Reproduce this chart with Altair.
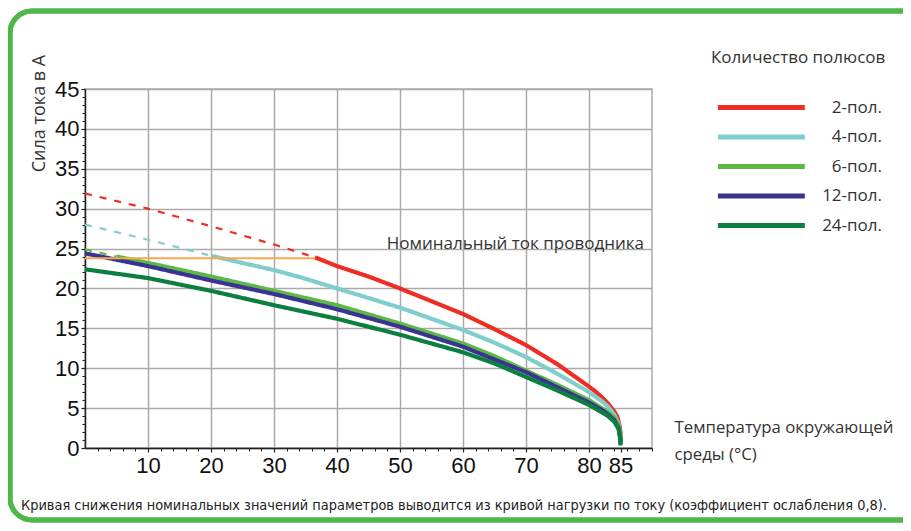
import altair as alt
import pandas as pd

series_names = ["2-пол.", "4-пол.", "6-пол.", "12-пол.", "24-пол."]
series_colors = ["#ee2e24", "#7fcdcd", "#5cb946", "#3a3392", "#0b7f3f"]

# dashed parts (above the conductor rating)
p2_dash_t = [0, 10, 20, 30, 36.5]
p2_dash_i = [31.9, 30.0, 27.8, 25.5, 23.9]
p4_dash_t = [0, 10, 20]
p4_dash_i = [28.0, 26.1, 24.1]
p6_dash_t = [0, 5]
p6_dash_i = [24.9, 24.0]

# solid parts
p2_t = [36.5, 40, 45, 50, 55, 60, 65, 70, 75, 80, 81, 82, 83, 84, 84.5, 84.8, 85, 85]
p2_i = [23.9, 22.8, 21.5, 20.0, 18.4, 16.8, 14.9, 12.9, 10.5, 7.7, 7.1, 6.4, 5.6, 4.6, 3.9, 3.0, 2.0, 0.8]
p4_t = [20, 30, 34.2, 40, 50, 60, 65, 70, 75, 80, 82, 83, 84, 84.7, 85, 85]
p4_i = [24.1, 22.3, 21.4, 20.0, 17.6, 14.8, 13.2, 11.4, 9.3, 7.0, 5.9, 5.2, 4.2, 3.0, 1.5, 0.8]
p6_t = [5, 10, 20, 30, 40, 50, 60, 65, 70, 75, 80, 82, 83, 84, 84.7, 85, 85]
p6_i = [24.0, 23.2, 21.5, 19.7, 17.9, 15.6, 13.1, 11.5, 9.7, 7.9, 6.0, 5.0, 4.5, 3.8, 2.8, 1.2, 0.6]
p12_t = [0, 10, 20, 30, 40, 50, 60, 65, 70, 75, 80, 82, 83, 84, 84.7, 85, 85]
p12_i = [24.4, 22.8, 21.0, 19.3, 17.4, 15.2, 12.7, 11.1, 9.5, 7.6, 5.7, 4.8, 4.2, 3.5, 2.5, 1.0, 0.5]
p24_t = [0, 10, 20, 30, 40, 50, 60, 65, 70, 75, 80, 82, 83, 84, 84.7, 85, 85]
p24_i = [22.4, 21.3, 19.7, 17.9, 16.2, 14.2, 12.0, 10.6, 8.9, 7.2, 5.4, 4.5, 4.0, 3.3, 2.4, 1.0, 0.3]

# conductor rated current
rating_t = [0, 36.5]
rating_i = [23.8, 23.8]
rating_label = ["Номинальный ток проводника"]
rating_label_t = [47.9]
rating_label_i = [25.6]

x_ticks = [10, 20, 30, 40, 50, 60, 70, 80, 85]
x_minor = [2, 4, 6, 8, 12, 14, 16, 18, 22, 24, 26, 28, 32, 34, 36, 38, 42, 44, 46, 48,
           52, 54, 56, 58, 62, 64, 66, 68, 72, 74, 76, 78, 82, 84, 86, 88, 90]
y_ticks = [0, 5, 10, 15, 20, 25, 30, 35, 40, 45]
y_minor = [v for v in range(0, 46) if v % 5 != 0]

note = ["Кривая снижения номинальных значений параметров выводится из кривой нагрузки "
        "по току (коэффициент ослабления 0,8)."]

rows = []
def add(name, style, ts, vs):
    for k, (t, v) in enumerate(zip(ts, vs)):
        rows.append({"series": name, "style": style, "seg": name + style, "t": t, "i": v, "idx": k})

add(series_names[0], "dashed", p2_dash_t, p2_dash_i)
add(series_names[0], "solid", p2_t, p2_i)
add(series_names[1], "dashed", p4_dash_t, p4_dash_i)
add(series_names[1], "solid", p4_t, p4_i)
add(series_names[2], "dashed", p6_dash_t, p6_dash_i)
add(series_names[2], "solid", p6_t, p6_i)
add(series_names[3], "solid", p12_t, p12_i)
add(series_names[4], "solid", p24_t, p24_i)
curves_df = pd.DataFrame(rows)

rating_df = pd.DataFrame({"t": rating_t, "i": rating_i})
label_df = pd.DataFrame({"t": rating_label_t, "i": rating_label_i, "label": rating_label})
note_df = pd.DataFrame({"note": note})

GEO = "Open Sans"
NARROW = "Liberation Sans Narrow, Arial Narrow, Liberation Sans, sans-serif"
COND = "Liberation Sans Narrow, DejaVu Sans Condensed, Roboto Condensed, Liberation Sans, sans-serif"

xscale = alt.Scale(domain=[0, 90], nice=False, zero=False)
yscale = alt.Scale(domain=[0, 45], nice=False)

x_axis = alt.Axis(
    values=x_ticks, orient="bottom", grid=True, gridColor="#aaaaaa", gridWidth=1.5,
    gridOpacity={"condition": {"test": "datum.value === 85", "value": 0}, "value": 1},
    domainColor="#222222", domainWidth=1.5, tickColor="#222222", tickSize=4, tickWidth=1.2,
    labelFont=NARROW, labelFontSize=22, labelColor="#111111", labelPadding=3,
    labelFlush=False, labelOverlap=False,
    title=["Температура окружающей", "среды (°C)"], titleX=589, titleY=-29,
    titleAlign="left", titleBaseline="top", titleFont=GEO, titleFontSize=16.8,
    titleFontWeight="normal", titleColor="#333333", titleLineHeight=27,
)
y_axis = alt.Axis(
    values=y_ticks, orient="left", grid=True, gridColor="#aaaaaa", gridWidth=1.5,
    domainColor="#222222", domainWidth=1.5, tickColor="#222222", tickSize=4, tickWidth=1.2,
    labelFont=NARROW, labelFontSize=22, labelColor="#111111", labelPadding=2,
    labelFlush=False, labelOverlap=False,
    title="Сила тока в А", titleAngle=270, titleX=-46, titleY=24, titleAlign="center",
    titleBaseline="middle", titleFont=GEO, titleFontSize=18, titleFontWeight="normal",
    titleColor="#333333",
)
x_minor_axis = alt.Axis(values=x_minor, orient="bottom", grid=False, domain=False, labels=False,
                        tickColor="#222222", tickSize=3, tickWidth=1, title=None)
y_minor_axis = alt.Axis(values=y_minor, orient="left", grid=False, domain=False, labels=False,
                        tickColor="#222222", tickSize=3, tickWidth=1, title=None)

frame = alt.Chart(rating_df).mark_rect(
    fillOpacity=0, stroke="#4db848", strokeWidth=5, cornerRadius=22
).encode(
    x=alt.value(-75), x2=alt.value(1000), y=alt.value(-78), y2=alt.value(431)
)

rating = alt.Chart(rating_df).mark_line(color="#f9a94b", strokeWidth=2).encode(
    x=alt.X("t:Q", scale=xscale, axis=None),
    y=alt.Y("i:Q", scale=yscale, axis=None),
)

curves = alt.Chart(curves_df).mark_line(strokeCap="butt").encode(
    x=alt.X("t:Q", scale=xscale, axis=x_axis),
    y=alt.Y("i:Q", scale=yscale, axis=y_axis),
    color=alt.Color(
        "series:N",
        scale=alt.Scale(domain=series_names, range=series_colors),
        legend=alt.Legend(
            orient="none", legendX=626, legendY=-39, padding=0,
            title="Количество полюсов", titleFont=GEO, titleFontSize=17,
            titleFontWeight="normal", titleColor="#333333", titlePadding=27,
            symbolType="M-0.6,0H7.3", symbolSize=484, symbolStrokeWidth=5,
            labelFont=GEO, labelFontSize=17, labelColor="#333333", labelAlign="right",
            labelOffset=144, rowPadding=5.5, labelLimit=0,
        ),
    ),
    strokeDash=alt.StrokeDash("style:N", scale=alt.Scale(domain=["solid", "dashed"],
                                                        range=[[1, 0], [7, 8]]), legend=None),
    strokeWidth=alt.StrokeWidth("style:N", scale=alt.Scale(domain=["solid", "dashed"],
                                                          range=[4.2, 2.2]), legend=None),
    detail="seg:N",
    order="idx:Q",
)

label = alt.Chart(label_df).mark_text(
    align="left", baseline="middle", font=GEO, fontSize=17, color="#333333"
).encode(
    x=alt.X("t:Q", scale=xscale, axis=None),
    y=alt.Y("i:Q", scale=yscale, axis=None),
    text="label:N",
)

note_text = alt.Chart(note_df).mark_text(
    align="left", baseline="middle", font=COND, fontSize=14.4, color="#222222"
).encode(
    x=alt.value(-64), y=alt.value(417), text="note:N"
)

minor = alt.Chart(rating_df).mark_point(opacity=0).encode(
    x=alt.X("t:Q", scale=xscale, axis=x_minor_axis),
    y=alt.Y("i:Q", scale=yscale, axis=y_minor_axis),
)

chart = alt.layer(frame, curves, rating, label, note_text, minor).resolve_axis(
    x="independent", y="independent"
).properties(
    width=567, height=359,
    autosize=alt.AutoSizeParams(type="none"),
    padding={"left": 77, "top": 81, "right": 251, "bottom": 75},
    background="white",
).configure_view(stroke="#aaaaaa", strokeWidth=1.5)

chart.save("out.html", embed_options={"renderer": "svg", "actions": False})
